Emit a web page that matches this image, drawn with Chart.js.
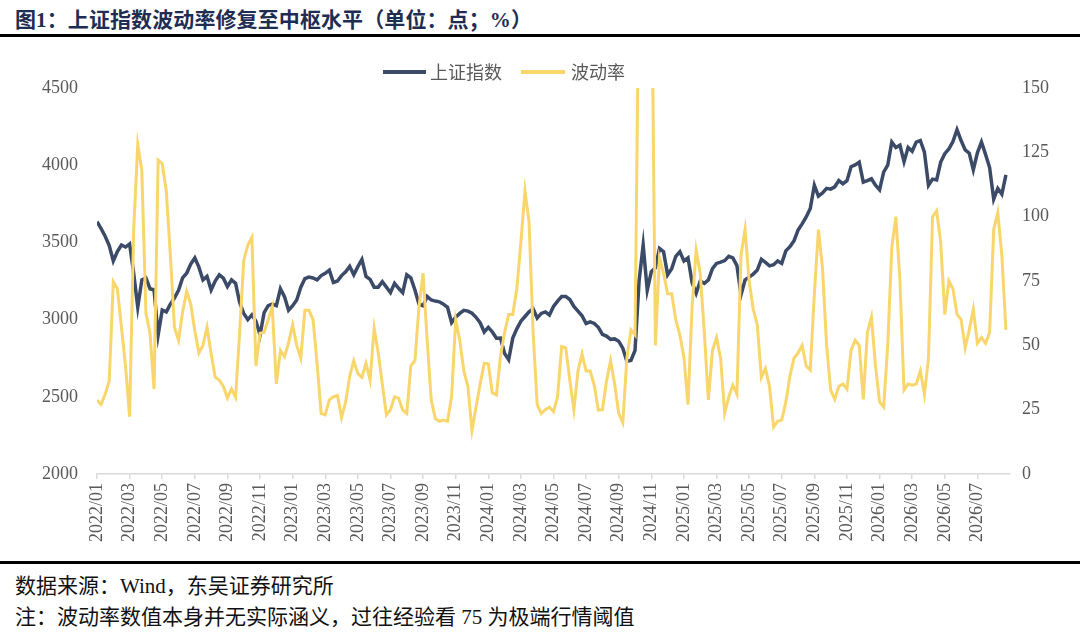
<!DOCTYPE html>
<html>
<head>
<meta charset="utf-8">
<script src="https://cdn.jsdelivr.net/npm/chart.js@4.4.1/dist/chart.umd.min.js"></script>
<style>
  html,body{margin:0;padding:0;background:#fff;}
  body{width:1080px;height:632px;position:relative;overflow:hidden;font-family:"Liberation Serif","Noto Sans CJK SC",serif;}
  #title{position:absolute;left:15px;top:3px;font-size:21px;font-weight:bold;color:#1f2d52;white-space:nowrap;letter-spacing:0.1px;}
  #topline{position:absolute;left:0;top:34px;width:1080px;height:3px;background:#000;}
  #botline{position:absolute;left:0;top:561px;width:1080px;height:3px;background:#000;}
  #src{position:absolute;left:15px;top:569px;font-size:21px;color:#111;white-space:nowrap;}
  #note{position:absolute;left:15px;top:600px;font-size:21px;color:#111;white-space:nowrap;}
  #wrap{position:absolute;left:0;top:0;width:1080px;height:560px;}
  .lg{position:absolute;top:61px;font-size:18px;color:#595959;white-space:nowrap;font-family:"Noto Sans CJK SC",sans-serif;line-height:20px;}
  .sw{position:absolute;height:4px;top:70px;}
</style>
</head>
<body>
<div id="title">图1：上证指数波动率修复至中枢水平（单位：点；%）</div>
<div id="topline"></div>
<div id="wrap"><canvas id="c"></canvas></div>
<div class="sw" style="left:383px;width:43px;background:#3b4a67;"></div>
<div class="lg" style="left:430px;">上证指数</div>
<div class="sw" style="left:521px;width:44px;background:#f9d66b;"></div>
<div class="lg" style="left:571px;">波动率</div>
<div id="botline"></div>
<div id="src">数据来源：Wind，东吴证券研究所</div>
<div id="note">注：波动率数值本身并无实际涵义，过往经验看 75 为极端行情阈值</div>
<script>
// months per sample (weekly-ish samples starting 2022/01)
const sampleStep = 0.25;

const tickLabels = ['2022/01','2022/03','2022/05','2022/07','2022/09','2022/11',
  '2023/01','2023/03','2023/05','2023/07','2023/09','2023/11',
  '2024/01','2024/03','2024/05','2024/07','2024/09','2024/11',
  '2025/01','2025/03','2025/05','2025/07','2025/09','2025/11',
  '2026/01','2026/03','2026/05','2026/07'];

const seriesNames = ['上证指数','波动率'];

const shIndex = [
3634,3590,3540,3480,
3380,3440,3483,3470,
3490,3300,3080,3257,
3270,3200,3192,2900,
3062,3050,3100,3140,
3190,3270,3300,3360,
3400,3340,3257,3280,
3192,3250,3290,3268,
3214,3257,3235,3110,
3040,3000,3030,2990,
2900,3045,3090,3100,
3090,3200,3149,3060,
3090,3127,3210,3265,
3275,3270,3257,3285,
3300,3320,3240,3250,
3285,3310,3345,3290,
3343,3390,3280,3260,
3210,3210,3245,3210,
3175,3235,3203,3175,
3290,3270,3192,3100,
3090,3150,3127,3120,
3115,3100,3080,2980,
3015,3040,3060,3055,
3041,3015,2980,2920,
2950,2920,2879,2880,
2780,2740,2880,2940,
2990,3020,3050,3070,
3010,3040,3050,3030,
3085,3120,3149,3150,
3130,3085,3055,3025,
2975,2985,2975,2950,
2905,2893,2872,2875,
2860,2815,2730,2735,
2800,3250,3483,3190,
3310,3335,3461,3440,
3290,3330,3410,3440,
3380,3400,3240,3170,
3250,3235,3257,3330,
3364,3372,3382,3410,
3400,3350,3160,3257,
3275,3295,3321,3390,
3370,3348,3355,3380,
3364,3445,3472,3510,
3580,3620,3665,3720,
3870,3800,3820,3850,
3845,3860,3900,3880,
3900,3990,4002,4020,
3890,3900,3912,3870,
3840,3955,4000,4150,
4115,4130,4023,4115,
4090,4150,4160,4085,
3870,3910,3905,4020,
4075,4105,4153,4230,
4160,4099,4078,3970,
4080,4150,4070,3985,
3780,3850,3812,3937
];

const volatility = [
28.8,27,31,36,
74.7,72,57,42,
22.3,95,128,118,
62.5,54.7,33,122,
120.6,110,85,57,
52,63,71,66,
55.7,47,50,57,
46.7,37.6,36.5,34,
29.5,33,29.8,55,
83,89,92,42,
54.7,55,60,65,
35,48,45.6,51,
58,50,45,63.6,
63.6,60,43,23.5,
23,28.8,30,30.5,
22,28,38,44,
39,37.6,43,36.5,
56.6,47,35,23,
25,30,29.5,24.8,
23.5,42,44,65,
78,52,28.8,21.5,
20.5,21,20.5,30,
59.9,52,40,34,
17,26,35,43,
42.8,31.5,30.7,46,
55,62,62,72,
90,110,98,55,
27,23.5,25,26,
24.2,30,49.5,49,
36.5,25,40,46.7,
40,40,34.5,24.8,
25,36,44,35,
23.6,20,45,56,
54,200,220,230,
210,50,84,78,
70,70,60,54,
45.4,27,65,87,
78,55,28.8,48,
53,45,23.6,30,
34.5,31,85,95,
75,64,58,37.5,
41,34,18.3,20.5,
21,28,38,45,
47,50,42,40.4,
70,95,80,50,
32.6,29,34,35,
33,48,52,50,
29,55,61,42,
28,26,50,88,
100,75,32.6,35,
34.5,35,40,31,
45,100,102.3,90,
62,75,72,62,
60,49,56,64,
50.8,53,50.8,55,
95,101.6,85,56
];

const toPoints = arr => arr.map((v, i) => ({x: i * sampleStep, y: v}));
const tickFont = {family: '"Liberation Serif", serif', size: 18};
const tickColor = '#595959';

new Chart(document.getElementById('c'), {
  type: 'line',
  data: {
    datasets: [
      {label: seriesNames[0], data: toPoints(shIndex), yAxisID: 'y', borderColor: '#3b4a67', borderWidth: 3.5,
       pointRadius: 0, tension: 0, order: 2},
      {label: seriesNames[1], data: toPoints(volatility), yAxisID: 'y1', borderColor: '#f9d66b', borderWidth: 3,
       pointRadius: 0, tension: 0, order: 1}
    ]
  },
  options: {
    responsive: true,
    maintainAspectRatio: false,
    animation: false,
    devicePixelRatio: 1,
    layout: {padding: {top: 88, left: 0, right: 0, bottom: 0}},
    plugins: {legend: {display: false}, tooltip: {enabled: false}},
    scales: {
      x: {
        type: 'linear', min: 0, max: 56,
        afterFit: s => { s.height = 86; },
        afterBuildTicks: s => { s.ticks = s.ticks.filter(t => t.value % 2 === 0 && t.value / 2 < tickLabels.length); },
        ticks: {stepSize: 2, autoSkip: false, minRotation: 90, maxRotation: 90, padding: 4,
                color: tickColor, font: tickFont,
                callback: v => tickLabels[v / 2] || ''},
        grid: {display: true, drawOnChartArea: false, drawTicks: true, tickLength: 5, color: '#d9d9d9', lineWidth: 1.5},
        border: {display: true, color: '#d9d9d9', width: 1.5}
      },
      y: {
        position: 'left', min: 2000, max: 4500,
        afterFit: s => { s.width = 97; },
        ticks: {stepSize: 500, color: tickColor, font: tickFont, padding: 19, callback: v => String(v)},
        grid: {display: false, drawTicks: false},
        border: {display: false}
      },
      y1: {
        position: 'right', min: 0, max: 150,
        afterFit: s => { s.width = 70; },
        ticks: {stepSize: 25, color: tickColor, font: tickFont, padding: 12, callback: v => String(v)},
        grid: {display: false, drawTicks: false},
        border: {display: false}
      }
    }
  }
});
</script>
</body>
</html>
